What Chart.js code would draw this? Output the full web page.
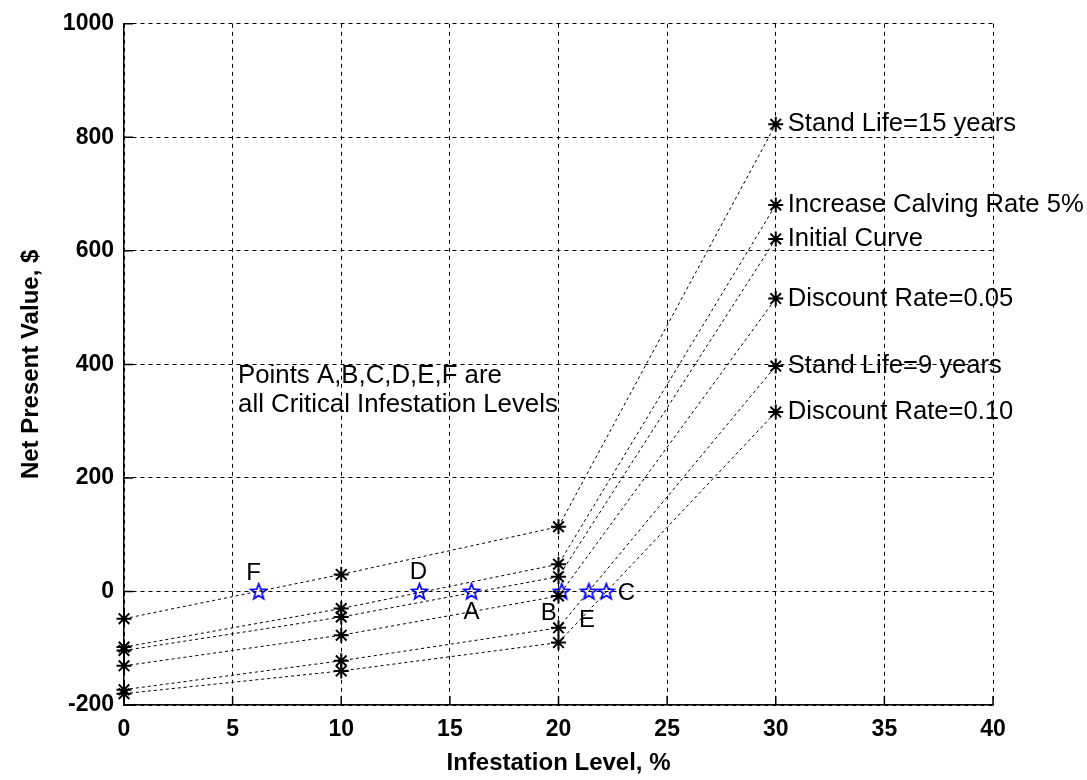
<!DOCTYPE html>
<html>
<head>
<meta charset="utf-8">
<title>Net Present Value vs Infestation Level</title>
<script src="https://cdn.jsdelivr.net/npm/chart.js@4/dist/chart.umd.min.js"></script>
<style>
  html, body { margin: 0; padding: 0; background: #fff; }
  #wrap { width: 1087px; height: 780px; }
</style>
</head>
<body>
<div id="wrap"><canvas id="myChart" width="1087" height="780"></canvas></div>
<script>
'use strict';

// ******** DATA **********

let infestationLevels = [0, 10, 20, 30];

let standLife15 = [-48, 30, 114, 823];
let calvingRate5 = [-98, -30, 48, 681];
let initialCurve = [-104, -45, 26, 621];
let discountRate05 = [-131, -77, -8, 516];
let standLife9 = [-173, -122, -64, 397];
let discountRate10 = [-180, -140, -90, 316];

let curveNames = ['Stand Life=15 years', 'Increase Calving Rate 5%', 'Initial Curve', 'Discount Rate=0.05', 'Stand Life=9 years', 'Discount Rate=0.10'];

// critical infestation levels (where NPV crosses zero)
let criticalNames = ['A', 'B', 'C', 'D', 'E', 'F'];
let criticalLevels = [16.0, 20.15, 22.2, 13.6, 21.4, 6.2];

let xTicks = [0, 5, 10, 15, 20, 25, 30, 35, 40];
let yTicks = [-200, 0, 200, 400, 600, 800, 1000];

let noteLines = ['Points A,B,C,D,E,F are', 'all Critical Infestation Levels'];

// ********** HELPERS ***********

const FONT = '"Liberation Sans", Arial, sans-serif';

function toPoints(values) {
  let pts = [];
  for (let i = 0; i < infestationLevels.length; i++) {
    pts.push({ x: infestationLevels[i], y: values[i] });
  }
  return pts;
}

// blue five pointed star (MATLAB 'p' marker)
function makePentagram() {
  let c = document.createElement('canvas');
  c.width = 19;
  c.height = 19;
  let g = c.getContext('2d');
  g.strokeStyle = '#0a0aff';
  g.lineWidth = 1.8;
  g.beginPath();
  for (let i = 0; i < 10; i++) {
    let r = i % 2 === 0 ? 8.2 : 3.5;
    let a = -Math.PI / 2 + i * Math.PI / 5;
    let px = 9.5 + r * Math.cos(a);
    let py = 10 + r * Math.sin(a);
    if (i === 0) g.moveTo(px, py); else g.lineTo(px, py);
  }
  g.closePath();
  g.stroke();
  return c;
}

let allCurves = [standLife15, calvingRate5, initialCurve, discountRate05, standLife9, discountRate10];

let datasets = [];
for (let i = 0; i < allCurves.length; i++) {
  datasets.push({
    label: curveNames[i],
    data: toPoints(allCurves[i]),
    showLine: true,
    clip: false,
    borderColor: '#000',
    borderWidth: 1,
    borderDash: [3, 3],
    pointStyle: 'star',
    pointRadius: 7.5,
    pointBorderWidth: 2,
    pointBorderColor: '#000',
    pointBackgroundColor: '#000',
    tension: 0
  });
}

datasets.push({
  label: 'Critical',
  data: criticalLevels.map(v => ({ x: v, y: 0 })),
  showLine: false,
  clip: false,
  pointStyle: makePentagram(),
  pointRadius: 9
});

// offsets of letter labels around the blue stars
const letterOffsets = {
  A: [0, 21], B: [-13, 22], C: [20, 2], D: [-1, -19], E: [-2, 29], F: [-5, -18]
};

// ********** PLUGINS ************

let annotations = {
  id: 'annotations',
  afterDatasetsDraw(chart) {
    let ctx = chart.ctx;
    let xs = chart.scales.x;
    let ys = chart.scales.y;
    ctx.save();

    // inward solid ticks like MATLAB
    ctx.strokeStyle = '#000';
    ctx.lineWidth = 1.5;
    ctx.setLineDash([]);
    ctx.beginPath();
    for (let t of xTicks) {
      let px = xs.getPixelForValue(t);
      ctx.moveTo(px, ys.bottom);
      ctx.lineTo(px, ys.bottom - 9);
    }
    for (let t of yTicks) {
      let py = ys.getPixelForValue(t);
      ctx.moveTo(xs.left, py);
      ctx.lineTo(xs.left + 9, py);
    }
    ctx.stroke();

    ctx.fillStyle = '#000';
    ctx.font = '25.6px ' + FONT;
    ctx.textBaseline = 'middle';

    // curve names at the right end of each line
    ctx.textAlign = 'left';
    for (let i = 0; i < allCurves.length; i++) {
      let last = allCurves[i].length - 1;
      let px = xs.getPixelForValue(infestationLevels[last]);
      let py = ys.getPixelForValue(allCurves[i][last]);
      ctx.fillText(curveNames[i], px + 12, py);
    }

    // letters at the critical points
    ctx.textAlign = 'center';
    ctx.font = '24px ' + FONT;
    for (let i = 0; i < criticalNames.length; i++) {
      let off = letterOffsets[criticalNames[i]];
      let px = xs.getPixelForValue(criticalLevels[i]);
      let py = ys.getPixelForValue(0);
      ctx.fillText(criticalNames[i], px + off[0], py + off[1]);
    }

    // note text
    ctx.textAlign = 'left';
    ctx.font = '25.8px ' + FONT;
    let nx = xs.getPixelForValue(5.25);
    let ny = ys.getPixelForValue(380);
    for (let i = 0; i < noteLines.length; i++) {
      ctx.fillText(noteLines[i], nx, ny + i * 29);
    }
    ctx.restore();
  }
};

// ********** CHART *************

let ctx = document.getElementById('myChart').getContext('2d');

let myChartObj = {
  type: 'scatter',
  data: { datasets: datasets },
  options: {
    responsive: false,
    animation: false,
    layout: { padding: { top: 21, right: 94, left: 0, bottom: 0 } },
    plugins: {
      legend: { display: false },
      tooltip: { enabled: false }
    },
    scales: {
      x: {
        type: 'linear',
        min: 0,
        max: 40,
        afterBuildTicks: scale => { scale.ticks = xTicks.map(v => ({ value: v })); },
        afterFit: scale => { scale.height = 75; },
        ticks: {
          color: '#000',
          padding: 11,
          callback: v => String(v),
          font: { family: FONT, size: 23, weight: 'bold' }
        },
        grid: { color: '#000', lineWidth: 1, drawTicks: false },
        border: { display: true, color: '#000', width: 1.5, dash: [4, 4] },
        title: {
          display: true,
          text: 'Infestation Level, %',
          color: '#000',
          font: { family: FONT, size: 24, weight: 'bold' },
          padding: { top: 0, bottom: 2 }
        }
      },
      y: {
        type: 'linear',
        min: -200,
        max: 1000,
        afterBuildTicks: scale => { scale.ticks = yTicks.map(v => ({ value: v })); },
        afterFit: scale => { scale.width = 124; },
        ticks: {
          color: '#000',
          padding: 10,
          callback: v => String(v),
          font: { family: FONT, size: 23, weight: 'bold' }
        },
        grid: { color: '#000', lineWidth: 1, drawTicks: false },
        border: { display: true, color: '#000', width: 1.5, dash: [4, 4] },
        title: {
          display: true,
          text: 'Net Present Value, $',
          color: '#000',
          font: { family: FONT, size: 24, weight: 'bold' },
          padding: { top: 17, bottom: 0 }
        }
      }
    }
  },
  plugins: [annotations]
};

new Chart(ctx, myChartObj);
</script>
</body>
</html>
